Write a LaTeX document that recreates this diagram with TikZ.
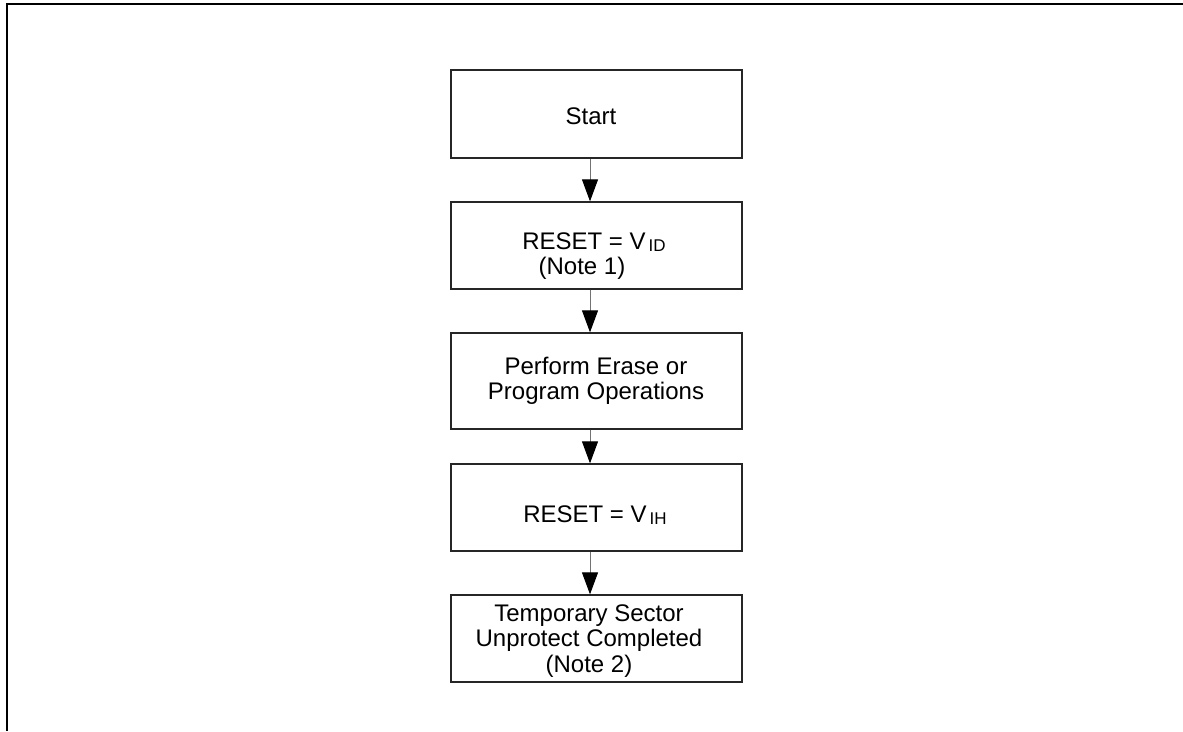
\documentclass[tikz,border=0pt]{standalone}
\usepackage{fontspec}
\setmainfont{Liberation Sans}
\usetikzlibrary{arrows.meta}
\newcommand{\subtxt}[1]{\hspace{3pt}\raisebox{-2.5pt}{\fontsize{17}{17}\selectfont #1}}
\begin{document}
\begin{tikzpicture}[x=1pt,y=-1pt,
  box/.style={draw=black!85, line width=1.3pt, minimum width=291pt, inner sep=0pt},
  lbl/.style={font=\fontsize{24}{25.5}\selectfont, align=center, inner sep=0pt},
  arr/.style={draw=black!55, line width=1pt, -{Triangle[width=16pt,length=22pt,color=black]}}]
\useasboundingbox (0,0) rectangle (1183,731);
\draw[line width=2pt] (6.8,731) -- (6.8,4) -- (1183,4);
\coordinate (ax) at (590,0);
\node[box, minimum height=88pt] (b1) at (596.5,114) {};
\node[box, minimum height=87pt] (b2) at (596.5,245.5) {};
\node[box, minimum height=96pt] (b3) at (596.5,381) {};
\node[box, minimum height=87pt] (b4) at (596.5,507.5) {};
\node[box, minimum height=87pt] (b5) at (596.5,638.5) {};
\node[lbl] (t1) at (591,116) {Start};
\node[lbl] (t2) at (594,256) {RESET = V\subtxt{ID}\\(Note 1)\hspace*{24pt}};
\node[lbl] (t3) at (596,381) {Perform Erase or\\Program Operations};
\node[lbl] (t4) at (595,515) {RESET = V\subtxt{IH}};
\node[lbl] (t5) at (589,641) {Temporary Sector\\Unprotect Completed\\(Note 2)};
\draw[arr] (b1.south -| ax) -- (b2.north -| ax);
\draw[arr] (b2.south -| ax) -- (b3.north -| ax);
\draw[arr] (b3.south -| ax) -- (b4.north -| ax);
\draw[arr] (b4.south -| ax) -- (b5.north -| ax);
\end{tikzpicture}
\end{document}
